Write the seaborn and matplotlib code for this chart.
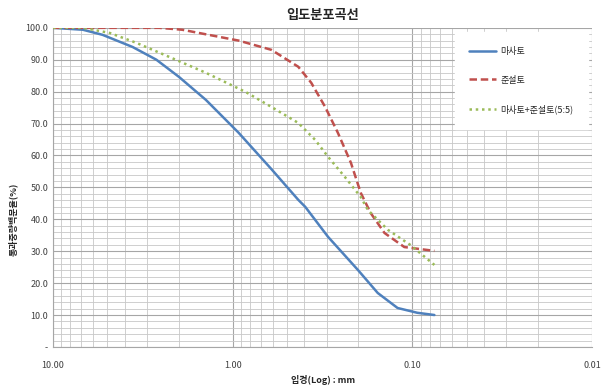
import matplotlib
matplotlib.use("Agg")
import matplotlib.pyplot as plt
import matplotlib.ticker as mticker
import seaborn as sns
import pandas as pd
import numpy as np

# particle size (mm) vs. percent passing
masato_size = [10.0, 6.82, 5.30, 3.61, 2.66, 1.99, 1.41, 0.927, 0.609, 0.432, 0.395,
               0.295, 0.201, 0.156, 0.121, 0.094, 0.0755]
masato_pass = [100.0, 99.4, 97.8, 94.0, 90.0, 84.6, 77.4, 67.1, 55.7, 46.1, 43.9,
               34.5, 24.1, 16.9, 12.2, 10.7, 10.0]

junseol_size = [10.0, 2.56, 1.91, 1.36, 0.927, 0.609, 0.432, 0.366, 0.306, 0.260,
                0.220, 0.194, 0.171, 0.143, 0.111, 0.0755]
junseol_pass = [100.0, 100.0, 99.4, 97.8, 96.0, 93.1, 87.8, 82.8, 75.2, 67.1,
                57.7, 48.3, 42.0, 35.7, 31.3, 30.1]

mix_size = [10.0, 6.82, 4.84, 3.44, 2.26, 1.41, 0.848, 0.609, 0.432, 0.348, 0.295,
            0.238, 0.194, 0.177, 0.137, 0.103, 0.0755]
mix_pass = [100.0, 100.0, 98.4, 95.3, 90.9, 85.9, 79.9, 75.2, 70.2, 64.9, 59.6,
            53.3, 47.0, 42.9, 36.7, 32.0, 25.7]

labels = ["마사토", "준설토", "마사토+준설토(5:5)"]
colors = ["#4F81BD", "#C0504D", "#9BBB59"]
dashes = ["-", (0, (3, 1.5)), (0, (1, 1.5))]

sns.set_style("white")
plt.rcParams["font.family"] = ["Noto Sans CJK KR", "DejaVu Sans"]

fig = plt.figure(figsize=(6.03, 3.92), dpi=100)
ax = fig.add_axes([0.088, 0.115, 0.894, 0.814])

series = [(masato_size, masato_pass), (junseol_size, junseol_pass), (mix_size, mix_pass)]
for (xs, ys), lab, col, ls in zip(series, labels, colors, dashes):
    df = pd.DataFrame({"size": xs, "pass": ys})
    sns.lineplot(data=df, x="size", y="pass", ax=ax, color=col, linewidth=1.8,
                 linestyle=ls, label=lab, sort=False, zorder=3)

ax.set_xscale("log")
ax.set_xlim(10, 0.01)
ax.set_ylim(0, 100)

ax.xaxis.set_major_locator(mticker.FixedLocator([10, 1, 0.1, 0.01]))
ax.xaxis.set_major_formatter(mticker.FixedFormatter(["10.00", "1.00", "0.10", "0.01"]))
ax.xaxis.set_minor_locator(mticker.LogLocator(base=10, subs=np.arange(2, 10)))
ax.xaxis.set_minor_formatter(mticker.NullFormatter())

ax.yaxis.set_major_locator(mticker.MultipleLocator(10))
ax.yaxis.set_minor_locator(mticker.MultipleLocator(2))
ax.yaxis.set_major_formatter(mticker.FuncFormatter(lambda v, p: "-" if v == 0 else f"{v:.1f}"))

ax.grid(True, which="major", axis="both", color="#a6a6a6", linewidth=0.8)
ax.grid(True, which="minor", axis="both", color="#c8c8c8", linewidth=0.6)
ax.set_axisbelow(True)

ax.tick_params(axis="both", which="both", length=0, labelsize=6.5, colors="#404040")
ax.tick_params(axis="x", pad=10)
for s in ["top", "right"]:
    ax.spines[s].set_visible(False)
ax.spines["left"].set_color("#a6a6a6")
ax.spines["bottom"].set_color("#a6a6a6")

ax.set_title("입도분포곡선", fontsize=9.5, fontweight="bold", pad=6)
ax.set_xlabel("입경(Log) : mm", fontsize=6.5, fontweight="bold", labelpad=4)
ax.set_ylabel("통과중량백분율(%)", fontsize=6.5, fontweight="bold", labelpad=8)
ax.yaxis.set_label_coords(-0.065, 0.40)

leg = ax.legend(loc="upper right", bbox_to_anchor=(1.0, 1.0), frameon=True, fontsize=6.5,
                labelspacing=2.2, handlelength=3.0, borderpad=1.6, handletextpad=0.4,
                fancybox=False)
leg.get_frame().set_facecolor("white")
leg.get_frame().set_edgecolor("white")
leg.get_frame().set_alpha(1)

fig.savefig("out.png", dpi=100)
